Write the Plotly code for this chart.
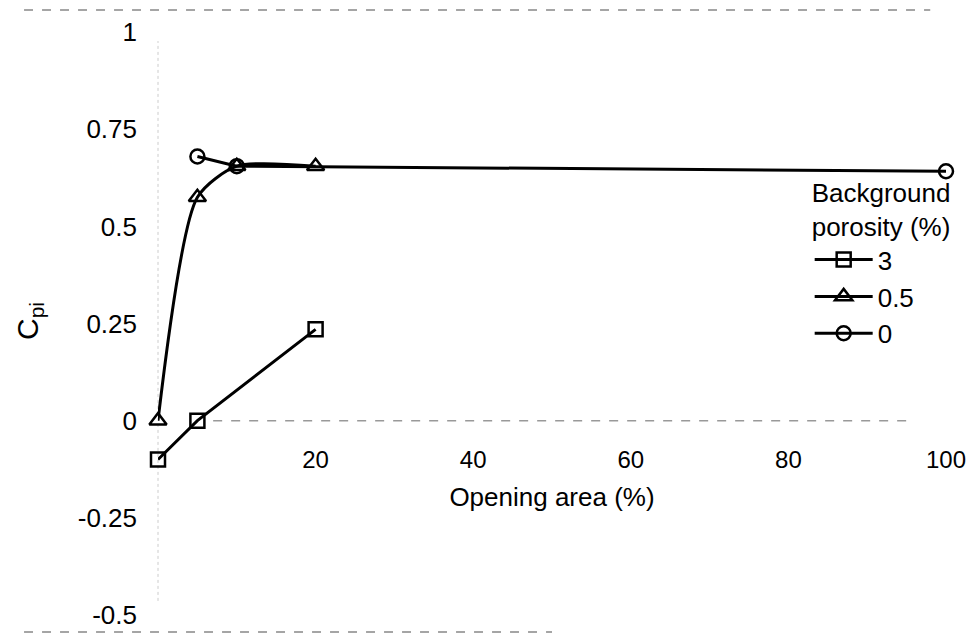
import plotly.graph_objects as go

# Data
x_3 = [0, 5, 20]
y_3 = [-0.1, 0.0, 0.235]
x_05 = [0, 5, 10, 20]
y_05 = [0.0, 0.575, 0.655, 0.655]
x_0 = [5, 10, 100]
y_0 = [0.68, 0.655, 0.642]
x_ticks = [20, 40, 60, 80, 100]
y_ticks = [-0.5, -0.25, 0, 0.25, 0.5, 0.75, 1]
y_tick_text = ["-0.5", "-0.25", "0", "0.25", "0.5", "0.75", "1"]

FONT = "Liberation Sans, Arial, sans-serif"
FS = 26
Y_RANGE = [-0.544, 1.057]

fig = go.Figure()
mk_line = dict(width=2.5, color="black")
fig.add_trace(go.Scatter(x=x_3, y=y_3, name="3", mode="lines+markers", cliponaxis=False,
                         line=dict(color="black", width=3),
                         marker=dict(symbol="square-open", size=14, color="black", line=mk_line)))
fig.add_trace(go.Scatter(x=x_05, y=y_05, name="0.5", mode="lines+markers", cliponaxis=False,
                         line=dict(color="black", width=3, shape="spline", smoothing=0.7),
                         marker=dict(symbol="triangle-up-open", size=15, color="black", line=mk_line)))
fig.add_trace(go.Scatter(x=x_0, y=y_0, name="0", mode="lines+markers", cliponaxis=False,
                         line=dict(color="black", width=3),
                         marker=dict(symbol="circle-open", size=14, color="black", line=mk_line)))

zero_pos = (0 - Y_RANGE[0]) / (Y_RANGE[1] - Y_RANGE[0])

fig.update_layout(
    width=960, height=626,
    margin=dict(l=150, r=20, t=2, b=2),
    paper_bgcolor="white", plot_bgcolor="white",
    font=dict(family=FONT, size=FS, color="black"),
    showlegend=True,
    legend=dict(x=0.827, y=0.745, xanchor="left", yanchor="top",
                bgcolor="rgba(0,0,0,0)",
                font=dict(size=FS),
                itemwidth=58,
                title=dict(text="Background<br>porosity (%)", side="top",
                           font=dict(size=FS)),
                tracegroupgap=0),
    xaxis=dict(range=[0, 100], tickvals=x_ticks, ticktext=[str(v) for v in x_ticks],
               showgrid=False, zeroline=False, showline=False, ticks="",
               anchor="free", position=zero_pos, ticklabelstandoff=22,
               ticklabeloverflow="allow",
               tickfont=dict(size=24),
               title=dict(text="Opening area (%)", standoff=16,
                          font=dict(size=FS))),
    yaxis=dict(range=Y_RANGE, tickvals=y_ticks, ticktext=y_tick_text,
               showgrid=False, zeroline=False, showline=False,
               ticks="", ticklabelstandoff=20,
               title=dict(text="C<sub>pi</sub>", standoff=30,
                          font=dict(size=30))),
    shapes=[
        dict(type="line", xref="paper", yref="y", x0=0.07, x1=0.95, y0=0, y1=0,
             line=dict(color="#999999", width=1.5, dash="dash"), layer="below"),
        dict(type="line", xref="paper", yref="paper", x0=0, x1=0, y0=0.05, y1=0.95,
             line=dict(color="#cccccc", width=1, dash="dot"), layer="below"),
        dict(type="line", xref="paper", yref="paper", x0=-0.17, x1=0.98, y0=1, y1=1,
             line=dict(color="#888888", width=1.5, dash="dash")),
        dict(type="line", xref="paper", yref="paper", x0=-0.17, x1=0.5, y0=0, y1=0,
             line=dict(color="#888888", width=1.5, dash="dash")),
    ],
)

fig.write_html("out.html")
